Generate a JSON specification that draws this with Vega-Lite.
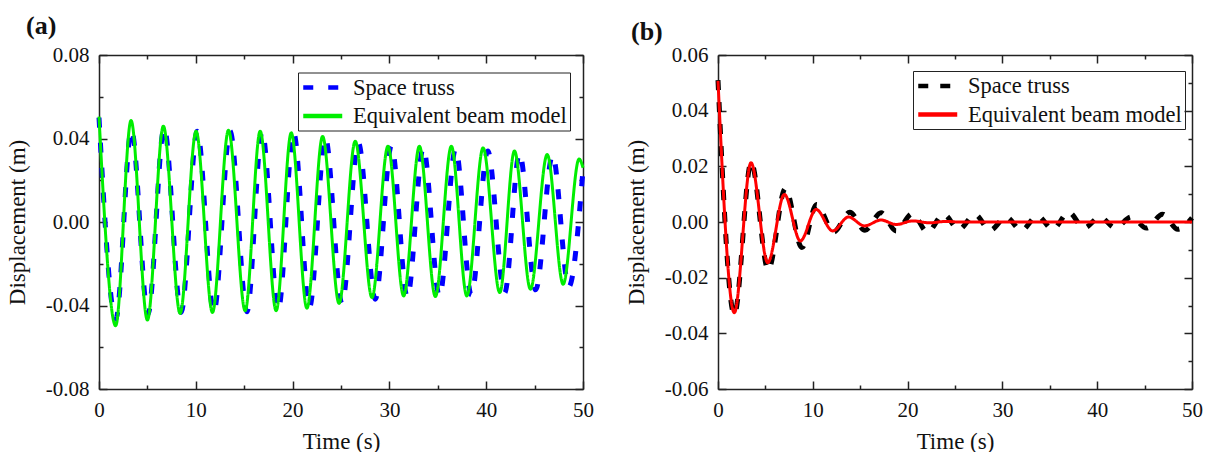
{
  "$schema": "https://vega.github.io/schema/vega-lite/v6.json",
  "padding": {"left": 6, "top": 13, "right": 5, "bottom": 5},
  "config": {
    "font": "Liberation Serif",
    "view": {"stroke": null},
    "axis": {"domainColor": "#222", "domainWidth": 1.5, "tickColor": "#222", "tickWidth": 1.5, "labelFont": "Liberation Serif", "labelFontSize": 21, "labelColor": "#111", "titleFont": "Liberation Serif", "titleFontSize": 23, "titleFontWeight": "normal", "titleColor": "#111", "grid": false, "labelFlush": false, "labelOverlap": false},
    "legend": {"title": null, "symbolType": "M-1,0H3", "symbolSize": 380, "symbolStrokeWidth": 4.5, "labelFont": "Liberation Serif", "labelFontSize": 22.5, "labelColor": "#111", "labelOffset": 28, "padding": 3, "rowPadding": 4.5, "labelLimit": 400, "strokeColor": "#222"}
  },
  "datasets": {
    "a": [
      {"t": 0, "v": 0.05, "s": "Space truss"},
      {"t": 1.74, "v": -0.0465, "s": "Space truss"},
      {"t": 3.35, "v": 0.0443, "s": "Space truss"},
      {"t": 5.06, "v": -0.0441, "s": "Space truss"},
      {"t": 6.73, "v": 0.0451, "s": "Space truss"},
      {"t": 8.48, "v": -0.0433, "s": "Space truss"},
      {"t": 10.15, "v": 0.0435, "s": "Space truss"},
      {"t": 11.86, "v": -0.0433, "s": "Space truss"},
      {"t": 13.54, "v": 0.0435, "s": "Space truss"},
      {"t": 15.28, "v": -0.043, "s": "Space truss"},
      {"t": 16.85, "v": 0.0433, "s": "Space truss"},
      {"t": 18.52, "v": -0.042, "s": "Space truss"},
      {"t": 20.1, "v": 0.043, "s": "Space truss"},
      {"t": 21.74, "v": -0.041, "s": "Space truss"},
      {"t": 23.38, "v": 0.0405, "s": "Space truss"},
      {"t": 25.1, "v": -0.039, "s": "Space truss"},
      {"t": 26.79, "v": 0.038, "s": "Space truss"},
      {"t": 28.54, "v": -0.037, "s": "Space truss"},
      {"t": 30.21, "v": 0.0365, "s": "Space truss"},
      {"t": 31.85, "v": -0.036, "s": "Space truss"},
      {"t": 33.5, "v": 0.0355, "s": "Space truss"},
      {"t": 35.17, "v": -0.0355, "s": "Space truss"},
      {"t": 36.84, "v": 0.035, "s": "Space truss"},
      {"t": 38.46, "v": -0.035, "s": "Space truss"},
      {"t": 40.16, "v": 0.034, "s": "Space truss"},
      {"t": 41.9, "v": -0.034, "s": "Space truss"},
      {"t": 43.44, "v": 0.033, "s": "Space truss"},
      {"t": 45.11, "v": -0.0325, "s": "Space truss"},
      {"t": 46.86, "v": 0.032, "s": "Space truss"},
      {"t": 48.53, "v": -0.031, "s": "Space truss"},
      {"t": 50, "v": 0.025, "s": "Space truss"},
      {"t": 0, "v": 0.0505, "s": "Equivalent beam model"},
      {"t": 1.72, "v": -0.0497, "s": "Equivalent beam model"},
      {"t": 3.31, "v": 0.0486, "s": "Equivalent beam model"},
      {"t": 5.0, "v": -0.047, "s": "Equivalent beam model"},
      {"t": 6.65, "v": 0.0459, "s": "Equivalent beam model"},
      {"t": 8.38, "v": -0.0438, "s": "Equivalent beam model"},
      {"t": 10.03, "v": 0.0435, "s": "Equivalent beam model"},
      {"t": 11.72, "v": -0.0433, "s": "Equivalent beam model"},
      {"t": 13.38, "v": 0.044, "s": "Equivalent beam model"},
      {"t": 15.1, "v": -0.0425, "s": "Equivalent beam model"},
      {"t": 16.65, "v": 0.0435, "s": "Equivalent beam model"},
      {"t": 18.3, "v": -0.0425, "s": "Equivalent beam model"},
      {"t": 19.86, "v": 0.0427, "s": "Equivalent beam model"},
      {"t": 21.48, "v": -0.0413, "s": "Equivalent beam model"},
      {"t": 23.1, "v": 0.041, "s": "Equivalent beam model"},
      {"t": 24.8, "v": -0.039, "s": "Equivalent beam model"},
      {"t": 26.47, "v": 0.0387, "s": "Equivalent beam model"},
      {"t": 28.2, "v": -0.0362, "s": "Equivalent beam model"},
      {"t": 29.85, "v": 0.0363, "s": "Equivalent beam model"},
      {"t": 31.47, "v": -0.0354, "s": "Equivalent beam model"},
      {"t": 33.1, "v": 0.0363, "s": "Equivalent beam model"},
      {"t": 34.75, "v": -0.0357, "s": "Equivalent beam model"},
      {"t": 36.4, "v": 0.0363, "s": "Equivalent beam model"},
      {"t": 38.0, "v": -0.0354, "s": "Equivalent beam model"},
      {"t": 39.68, "v": 0.0355, "s": "Equivalent beam model"},
      {"t": 41.4, "v": -0.0338, "s": "Equivalent beam model"},
      {"t": 42.92, "v": 0.034, "s": "Equivalent beam model"},
      {"t": 44.57, "v": -0.0322, "s": "Equivalent beam model"},
      {"t": 46.3, "v": 0.0323, "s": "Equivalent beam model"},
      {"t": 47.95, "v": -0.0298, "s": "Equivalent beam model"},
      {"t": 49.6, "v": 0.0302, "s": "Equivalent beam model"},
      {"t": 50, "v": 0.026, "s": "Equivalent beam model"}
    ],
    "b": [
      {"t": 0, "v": 0.051, "s": "Space truss"},
      {"t": 1.72, "v": -0.0333, "s": "Space truss"},
      {"t": 3.5, "v": 0.0215, "s": "Space truss"},
      {"t": 5.3, "v": -0.0172, "s": "Space truss"},
      {"t": 7.1, "v": 0.012, "s": "Space truss"},
      {"t": 8.85, "v": -0.0092, "s": "Space truss"},
      {"t": 10.4, "v": 0.0063, "s": "Space truss"},
      {"t": 12.2, "v": -0.0036, "s": "Space truss"},
      {"t": 13.9, "v": 0.0035, "s": "Space truss"},
      {"t": 15.5, "v": -0.003, "s": "Space truss"},
      {"t": 17.2, "v": 0.0033, "s": "Space truss"},
      {"t": 18.8, "v": -0.0032, "s": "Space truss"},
      {"t": 20.5, "v": 0.003, "s": "Space truss"},
      {"t": 22.1, "v": -0.0036, "s": "Space truss"},
      {"t": 23.8, "v": 0.0028, "s": "Space truss"},
      {"t": 25.4, "v": -0.0027, "s": "Space truss"},
      {"t": 27.1, "v": 0.0027, "s": "Space truss"},
      {"t": 28.7, "v": -0.003, "s": "Space truss"},
      {"t": 30.4, "v": 0.0018, "s": "Space truss"},
      {"t": 32.0, "v": -0.003, "s": "Space truss"},
      {"t": 33.7, "v": 0.0022, "s": "Space truss"},
      {"t": 35.3, "v": -0.0026, "s": "Space truss"},
      {"t": 37.0, "v": 0.0035, "s": "Space truss"},
      {"t": 38.6, "v": -0.0022, "s": "Space truss"},
      {"t": 40.3, "v": 0.0018, "s": "Space truss"},
      {"t": 41.9, "v": -0.0021, "s": "Space truss"},
      {"t": 43.6, "v": 0.0018, "s": "Space truss"},
      {"t": 45.2, "v": -0.0022, "s": "Space truss"},
      {"t": 46.9, "v": 0.0028, "s": "Space truss"},
      {"t": 48.5, "v": -0.0026, "s": "Space truss"},
      {"t": 50, "v": 0.0015, "s": "Space truss"},
      {"t": 0, "v": 0.0507, "s": "Equivalent beam model"},
      {"t": 1.72, "v": -0.0326, "s": "Equivalent beam model"},
      {"t": 3.48, "v": 0.0213, "s": "Equivalent beam model"},
      {"t": 5.25, "v": -0.0146, "s": "Equivalent beam model"},
      {"t": 7.0, "v": 0.0099, "s": "Equivalent beam model"},
      {"t": 8.69, "v": -0.0068, "s": "Equivalent beam model"},
      {"t": 10.35, "v": 0.0045, "s": "Equivalent beam model"},
      {"t": 12.1, "v": -0.0032, "s": "Equivalent beam model"},
      {"t": 13.76, "v": 0.0018, "s": "Equivalent beam model"},
      {"t": 15.45, "v": -0.0014, "s": "Equivalent beam model"},
      {"t": 17.2, "v": 0.0007, "s": "Equivalent beam model"},
      {"t": 18.8, "v": -0.0009, "s": "Equivalent beam model"},
      {"t": 20.56, "v": 0.0004, "s": "Equivalent beam model"},
      {"t": 22.3, "v": -0.0003, "s": "Equivalent beam model"},
      {"t": 24.0, "v": 0.0002, "s": "Equivalent beam model"},
      {"t": 25.5, "v": 0, "s": "Equivalent beam model"},
      {"t": 30, "v": 0, "s": "Equivalent beam model"},
      {"t": 40, "v": 0, "s": "Equivalent beam model"},
      {"t": 50, "v": 0, "s": "Equivalent beam model"}
    ]
  },
  "hconcat": [
    {
      "width": 484,
      "height": 334,
      "data": {"name": "a"},
      "title": {"text": "(a)", "anchor": "start", "frame": "group", "dx": -73, "offset": 5, "fontSize": 26, "fontWeight": "bold", "font": "Liberation Serif", "color": "#111"},
      "resolve": {"axis": {"x": "independent", "y": "independent"}},
      "layer": [
        {
          "layer": [
            {
              "transform": [{"filter": "datum.s === 'Space truss'"}],
              "mark": {"type": "line", "interpolate": "monotone", "strokeWidth": 5},
              "encoding": {
                "x": {"field": "t", "type": "quantitative", "scale": {"domain": [0, 50], "nice": false},
                  "axis": {"orient": "bottom", "values": [0, 5, 10, 15, 20, 25, 30, 35, 40, 45, 50], "labelExpr": "datum.value % 10 === 0 ? datum.label : ''", "tickSize": {"condition": {"test": "datum.value % 10 === 0", "value": -8}, "value": -4}, "labelPadding": 18, "title": "Time (s)", "titlePadding": 6}},
                "y": {"field": "v", "type": "quantitative", "scale": {"domain": [-0.08, 0.08], "nice": false},
                  "axis": {"orient": "left", "values": [-0.08, -0.06, -0.04, -0.02, 0, 0.02, 0.04, 0.06, 0.08], "labelExpr": "abs(round(datum.value*100)) % 4 === 0 ? (datum.value < -0.000001 ? '-' : '') + format(abs(datum.value), '.2f') : ''", "tickSize": {"condition": {"test": "abs(round(datum.value*100)) % 4 === 0", "value": -8}, "value": -4}, "labelPadding": 18, "title": "Displacement (m)", "titlePadding": 16}},
                "color": {"field": "s", "type": "nominal", "scale": {"domain": ["Space truss", "Equivalent beam model"], "range": ["#0000ff", "#00ee00"]}, "legend": {"orient": "none", "legendX": 199, "legendY": 17.5}},
                "strokeDash": {"field": "s", "type": "nominal", "scale": {"domain": ["Space truss", "Equivalent beam model"], "range": [[10, 15], [1, 0]]}, "legend": {"orient": "none", "legendX": 199, "legendY": 17.5}}
              }
            },
            {
              "transform": [{"filter": "datum.s === 'Equivalent beam model'"}],
              "mark": {"type": "line", "interpolate": "monotone", "strokeWidth": 3},
              "encoding": {
                "x": {"field": "t", "type": "quantitative"},
                "y": {"field": "v", "type": "quantitative"},
                "color": {"field": "s", "type": "nominal"},
                "strokeDash": {"field": "s", "type": "nominal"}
              }
            }
          ]
        },
        {
          "mark": {"type": "line", "strokeOpacity": 0},
          "encoding": {
            "x": {"field": "t", "type": "quantitative", "axis": {"orient": "top", "values": [0, 5, 10, 15, 20, 25, 30, 35, 40, 45, 50], "labels": false, "title": null, "tickSize": {"condition": {"test": "datum.value % 10 === 0", "value": -8}, "value": -4}}},
            "y": {"field": "v", "type": "quantitative", "axis": {"orient": "right", "values": [-0.08, -0.06, -0.04, -0.02, 0, 0.02, 0.04, 0.06, 0.08], "labels": false, "title": null, "tickSize": {"condition": {"test": "abs(round(datum.value*100)) % 4 === 0", "value": -8}, "value": -4}}}
          }
        }
      ]
    },
    {
      "width": 474,
      "height": 334,
      "data": {"name": "b"},
      "title": {"text": "(b)", "anchor": "start", "frame": "group", "dx": -87, "offset": -1, "fontSize": 26, "fontWeight": "bold", "font": "Liberation Serif", "color": "#111"},
      "resolve": {"axis": {"x": "independent", "y": "independent"}},
      "layer": [
        {
          "layer": [
            {
              "transform": [{"filter": "datum.s === 'Space truss'"}],
              "mark": {"type": "line", "interpolate": "monotone", "strokeWidth": 5},
              "encoding": {
                "x": {"field": "t", "type": "quantitative", "scale": {"domain": [0, 50], "nice": false},
                  "axis": {"orient": "bottom", "values": [0, 5, 10, 15, 20, 25, 30, 35, 40, 45, 50], "labelExpr": "datum.value % 10 === 0 ? datum.label : ''", "tickSize": {"condition": {"test": "datum.value % 10 === 0", "value": -8}, "value": -4}, "labelPadding": 18, "title": "Time (s)", "titlePadding": 6}},
                "y": {"field": "v", "type": "quantitative", "scale": {"domain": [-0.06, 0.06], "nice": false},
                  "axis": {"orient": "left", "values": [-0.06, -0.05, -0.04, -0.03, -0.02, -0.01, 0, 0.01, 0.02, 0.03, 0.04, 0.05, 0.06], "labelExpr": "abs(round(datum.value*100)) % 2 === 0 ? (datum.value < -0.000001 ? '-' : '') + format(abs(datum.value), '.2f') : ''", "tickSize": {"condition": {"test": "abs(round(datum.value*100)) % 2 === 0", "value": -8}, "value": -4}, "labelPadding": 18, "title": "Displacement (m)", "titlePadding": 16}},
                "color": {"field": "s", "type": "nominal", "scale": {"domain": ["Space truss", "Equivalent beam model"], "range": ["#000000", "#ff0000"]}, "legend": {"orient": "none", "legendX": 195, "legendY": 16}},
                "strokeDash": {"field": "s", "type": "nominal", "scale": {"domain": ["Space truss", "Equivalent beam model"], "range": [[10, 12], [1, 0]]}, "legend": {"orient": "none", "legendX": 195, "legendY": 16}}
              }
            },
            {
              "transform": [{"filter": "datum.s === 'Equivalent beam model'"}],
              "mark": {"type": "line", "interpolate": "monotone", "strokeWidth": 3},
              "encoding": {
                "x": {"field": "t", "type": "quantitative"},
                "y": {"field": "v", "type": "quantitative"},
                "color": {"field": "s", "type": "nominal"},
                "strokeDash": {"field": "s", "type": "nominal"}
              }
            }
          ]
        },
        {
          "mark": {"type": "line", "strokeOpacity": 0},
          "encoding": {
            "x": {"field": "t", "type": "quantitative", "axis": {"orient": "top", "values": [0, 5, 10, 15, 20, 25, 30, 35, 40, 45, 50], "labels": false, "title": null, "tickSize": {"condition": {"test": "datum.value % 10 === 0", "value": -8}, "value": -4}}},
            "y": {"field": "v", "type": "quantitative", "axis": {"orient": "right", "values": [-0.06, -0.05, -0.04, -0.03, -0.02, -0.01, 0, 0.01, 0.02, 0.03, 0.04, 0.05, 0.06], "labels": false, "title": null, "tickSize": {"condition": {"test": "abs(round(datum.value*100)) % 2 === 0", "value": -8}, "value": -4}}}
          }
        }
      ]
    }
  ],
  "spacing": 31,
  "resolve": {"scale": {"color": "independent", "strokeDash": "independent"}, "legend": {"color": "independent", "strokeDash": "independent"}}
}
